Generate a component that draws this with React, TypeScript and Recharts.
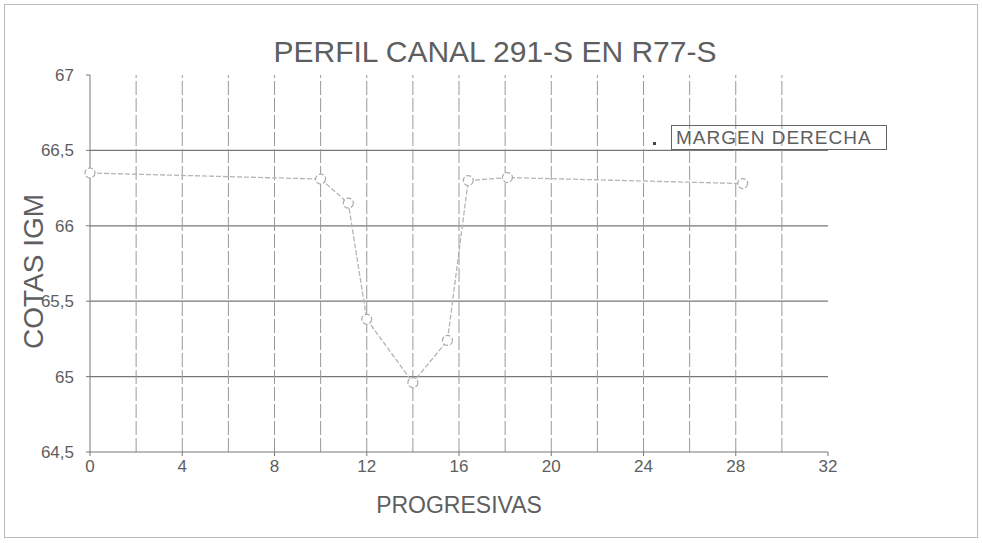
import { LineChart, Line, XAxis, YAxis, ReferenceLine } from 'recharts';

const progresivas = [0, 10, 11.2, 12, 14, 15.5, 16.4, 18.1, 28.3];
const cotas = [66.35, 66.31, 66.15, 65.38, 64.96, 65.24, 66.3, 66.32, 66.28];

const xTicks = [0, 4, 8, 12, 16, 20, 24, 28, 32];
const yTicks = [64.5, 65, 65.5, 66, 66.5, 67];
const xGrid = [2, 4, 6, 8, 10, 12, 14, 16, 18, 20, 22, 24, 26, 28, 30];
const yGrid = [65, 65.5, 66, 66.5];

const data = progresivas.map((x, i) => ({ x, cota: cotas[i] }));

const font = '"Liberation Sans", Arial, sans-serif';
const gray = '#5e5e5e';

const App = () => {
  return (
    <div style={{ position: 'absolute', left: 0, top: 0, width: 982, height: 543, background: '#fff' }}>
      <div
        style={{
          position: 'absolute',
          left: 4,
          top: 4,
          width: 972,
          height: 532,
          border: '1px solid #bbb',
        }}
      />
      <div
        style={{
          position: 'absolute',
          left: 0,
          width: 982,
          top: 34,
          textAlign: 'center',
          fontFamily: font,
          fontSize: 30,
          lineHeight: '36px',
          color: gray,
          paddingLeft: 4,
        }}
      >
        PERFIL CANAL 291-S EN R77-S
      </div>
      <LineChart
        width={982}
        height={543}
        data={data}
        margin={{ top: 75, right: 154, bottom: 61, left: 0 }}
        style={{ position: 'absolute', left: 0, top: 0 }}
      >
        <XAxis
          dataKey="x"
          type="number"
          domain={[0, 32]}
          ticks={xTicks}
          height={30}
          tickSize={4}
          tickMargin={4}
          stroke="#777"
          tick={{ fill: gray, fontSize: 17, fontFamily: font }}
          label={{
            value: 'PROGRESIVAS',
            position: 'bottom',
            offset: 15,
            fill: gray,
            fontSize: 23,
            fontFamily: font,
          }}
        />
        <YAxis
          type="number"
          domain={[64.5, 67]}
          ticks={yTicks}
          width={90}
          tickSize={4}
          tickMargin={12}
          stroke="#777"
          tickFormatter={(v: number) => String(v).replace('.', ',')}
          tick={{ fill: gray, fontSize: 17, fontFamily: font }}
          label={{
            content: ({ viewBox }: any) => {
              const cx = 33;
              const cy = viewBox.y + viewBox.height / 2 + 8;
              return (
                <text
                  x={cx}
                  y={cy}
                  transform={`rotate(-90 ${cx} ${cy})`}
                  textAnchor="middle"
                  dominantBaseline="central"
                  fill={gray}
                  fontSize={28}
                  fontFamily={font}
                >
                  COTAS IGM
                </text>
              );
            },
          }}
        />
        {yGrid.map((v) => (
          <ReferenceLine key={'h' + v} y={v} stroke="#777" strokeWidth={1.2} />
        ))}
        {xGrid.map((v) => (
          <ReferenceLine key={'v' + v} x={v} stroke="#999" strokeDasharray="14 3" />
        ))}
        <Line
          type="linear"
          dataKey="cota"
          name="MARGEN DERECHA"
          stroke="#b5b5b5"
          strokeWidth={1.3}
          strokeDasharray="5 2"
          dot={{ r: 5, stroke: '#aaa', strokeWidth: 1.2, fill: '#fff' }}
          isAnimationActive={false}
        />
      </LineChart>
      <div
        style={{
          position: 'absolute',
          left: 653,
          top: 125,
          display: 'flex',
          alignItems: 'center',
          fontFamily: font,
        }}
      >
        <span style={{ width: 3, height: 3, background: '#444', marginRight: 15, marginTop: 12 }} />
        <span
          style={{
            border: '1px solid #666',
            padding: '1px 14px 1px 4px',
            fontSize: 19,
            color: gray,
            lineHeight: '21px',
            letterSpacing: 1,
          }}
        >
          MARGEN DERECHA
        </span>
      </div>
    </div>
  );
};

export default App;
